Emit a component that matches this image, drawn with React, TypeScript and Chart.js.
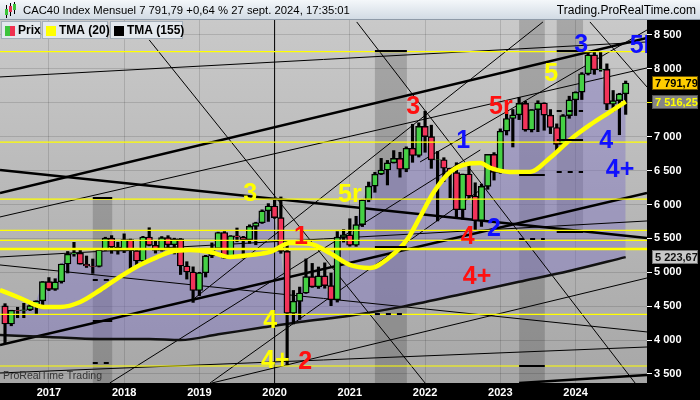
import { useEffect, useRef } from 'react';
import Chart from 'chart.js/auto';

// index 0 = juin 2016, un point par mois jusqu'à sept. 2024
const opens = [
  4505, 4237, 4440, 4438, 4448, 4509, 4578, 4862, 4749, 4858, 5122, 5267,
  5283, 5120, 5093, 5086, 5329, 5503, 5372, 5313, 5482, 5320, 5167, 5520,
  5398, 5324, 5511, 5406, 5493, 5093, 5004, 4731, 4993, 5241, 5351, 5586,
  5208, 5539, 5519, 5480, 5678, 5730, 5905, 5978, 5806, 5309, 4396, 4572,
  4695, 4936, 4784, 4947, 4803, 4594, 5518, 5551, 5399, 5703, 6067, 6270,
  6447, 6508, 6613, 6680, 6520, 6830, 6722, 7153, 7000, 6659, 6660, 6534,
  6469, 5923, 6449, 6125, 5763, 6267, 6739, 6474, 7082, 7268, 7322, 7491,
  7099, 7400, 7497, 7317, 7135, 6886, 7311, 7543, 7657, 7928, 8206, 7985,
  7993, 7479, 7531, 7631,
];
const highs = [
  4537, 4440, 4484, 4542, 4557, 4579, 4863, 4922, 4905, 5122, 5307, 5442,
  5338, 5240, 5196, 5330, 5517, 5541, 5444, 5567, 5490, 5340, 5530, 5657,
  5468, 5527, 5540, 5503, 5498, 5156, 5080, 5000, 5250, 5434, 5592, 5600,
  5541, 5653, 5530, 5700, 5738, 5921, 6013, 6065, 6111, 5457, 4732, 4782,
  5197, 5131, 5078, 5139, 4989, 5600, 5631, 5790, 5826, 6072, 6331, 6475,
  6680, 6650, 6795, 6770, 6850, 7183, 7205, 7376, 7170, 6783, 6690, 6537,
  6616, 6449, 6575, 6320, 6300, 6740, 6765, 7115, 7376, 7401, 7581, 7522,
  7399, 7530, 7500, 7400, 7189, 7327, 7597, 7662, 7945, 8254, 8259, 8259,
  8074, 7681, 7640, 7821,
];
const lows = [
  3956, 4211, 4330, 4330, 4435, 4383, 4521, 4730, 4733, 4840, 4990, 5237,
  5120, 5071, 4984, 5078, 5320, 5280, 5267, 5290, 5053, 5069, 5130, 5390,
  5283, 5311, 5337, 5270, 4967, 4900, 4556, 4656, 4930, 5216, 5340, 5205,
  5207, 5450, 5205, 5426, 5406, 5720, 5750, 5795, 5280, 3632, 4238, 4304,
  4688, 4777, 4762, 4765, 4507, 4561, 5445, 5385, 5383, 5674, 6040, 6180,
  6440, 6288, 6611, 6403, 6483, 6622, 6700, 6770, 6533, 5757, 6336, 6100,
  5795, 5783, 6094, 5628, 5676, 6224, 6360, 6460, 7025, 6848, 7252, 7081,
  7070, 7074, 7095, 7045, 6773, 6880, 7271, 7312, 7548, 7910, 7920, 7965,
  7398, 7375, 7029, 7329,
];
const closes = [
  4237, 4440, 4438, 4448, 4509, 4578, 4862, 4749, 4858, 5122, 5267, 5283,
  5120, 5093, 5086, 5329, 5503, 5372, 5313, 5482, 5320, 5167, 5520, 5398,
  5324, 5511, 5406, 5493, 5093, 5004, 4731, 4993, 5241, 5351, 5586, 5208,
  5539, 5519, 5480, 5678, 5730, 5905, 5978, 5806, 5309, 4396, 4572, 4695,
  4936, 4784, 4947, 4803, 4594, 5518, 5551, 5399, 5703, 6067, 6270, 6447,
  6508, 6613, 6680, 6520, 6830, 6722, 7153, 7000, 6659, 6660, 6534, 6469,
  5923, 6449, 6125, 5763, 6267, 6739, 6474, 7082, 7268, 7322, 7491, 7099,
  7400, 7497, 7317, 7135, 6886, 7311, 7543, 7657, 7928, 8206, 7985, 7993,
  7479, 7531, 7631, 7791.79,
];

// moyennes (indice du mois, valeur)
const tma20Idx = [-0.8, 2.4, 6.1, 8.8, 12, 15.2, 18.3, 21.5, 24.7, 26.3, 29.5, 32.7, 35.9, 39.1, 42.3, 45.5, 48.6, 51.8, 55, 58.2, 61.4, 64.1, 66.2, 68.3, 71, 73.7, 75.8, 77.4, 80.5, 83.7, 86.9, 90.1, 93.3, 96.5, 99];
const tma20Val = [4739, 4621, 4488, 4488, 4562, 4739, 4931, 5108, 5241, 5300, 5329, 5300, 5226, 5255, 5300, 5432, 5420, 5285, 5108, 5064, 5226, 5477, 5816, 6170, 6480, 6598, 6612, 6539, 6480, 6480, 6686, 6952, 7173, 7365, 7516.25];
const tma155Idx = [-0.8, 7, 15, 23, 28, 34, 41, 47, 55, 63, 72.6, 82, 90, 99];
const tma155Val = [4075, 4046, 4016, 4016, 4001, 4085, 4184, 4267, 4360, 4486, 4673, 4860, 5019, 5223.67];

const yearIdx = [7, 19, 31, 43, 55, 67, 79, 91];
const yearLabels = ['2017', '2018', '2019', '2020', '2021', '2022', '2023', '2024'];
const priceTicks = [3500, 4000, 4500, 5000, 5500, 6000, 6500, 7000, 7500, 8000, 8500];

const xMin = -0.8;
const xMax = 102.4;
const yMin = 3367;
const yMax = 8721;

// niveaux horizontaux jaunes
const levels = [8255, 6920, 6078, 5619, 5472, 5345, 4380, 3618];
const strongLevel = 5345;

// droites tracées : [mois0, valeur0, mois1, valeur1]
const thinLines = [
  [-0.8, 7881, 102.4, 8397],
  [-0.8, 5816, 102.4, 8014],
  [23.0, 8427, 67.0, 3367],
  [56.1, 8692, 100.5, 3367],
  [30.3, 4621, 85.8, 8692],
  [-0.8, 5226, 102.4, 5757],
  [-0.8, 5108, 102.4, 4120],
  [-0.8, 3515, 102.4, 3898],
  [33.0, 3367, 102.4, 4916],
  [16.7, 3367, 75.8, 6804],
  [32.7, 3367, 75.8, 6214],
  [93.3, 8692, 102.4, 7733],
  [66.2, 6627, 102.4, 8574],
];
const thickLines = [
  [-0.8, 6170, 102.4, 8456],
  [-0.8, 6509, 102.4, 5506],
  [-0.8, 3928, 102.4, 6170],
  [82.0, 3367, 102.4, 3485],
];
const markerMonth = 43;

// zones temporelles : [mois0, mois1, haut, bas]
const bands = [
  [14, 17.1, 6100, yMin],
  [59, 64.1, 8269, yMin],
  [82, 86.1, yMax, yMin],
  [88, 92.2, yMax, 5594],
];
// repères : [mois0, mois1, valeur, pointillé]
const bandMarks = [
  [14, 17.1, 6100, 0], [14, 17.1, 4887, 1], [14, 17.1, 4282, 0], [14, 17.1, 3662, 1],
  [59, 64.1, 8269, 0], [59, 64.1, 5373, 0], [59, 64.1, 4385, 1],
  [82, 86.1, 6435, 0], [82, 86.1, 5491, 1], [82, 86.1, 3618, 0],
  [88, 92.2, 8269, 0], [88, 92.2, 7379, 1], [88, 92.2, 6952, 0], [88, 92.2, 6480, 1], [88, 92.2, 5594, 0],
];

// comptages de vagues : [texte, mois, valeur]
const yellowWaves = [['3', 39.1, 6155], ['5r', 55.0, 6140], ['5', 87.1, 7925], ['4', 42.3, 4282], ['4+', 43.1, 3692]];
const redWaves = [['3', 65.1, 7438], ['5r', 79.1, 7438], ['4', 73.8, 5521], ['4+', 75.3, 4931], ['1', 47.2, 5521], ['2', 47.9, 3677]];
const blueWaves = [['1', 73.1, 6937], ['3', 91.9, 8353], ['5I', 101.3, 8338], ['4', 95.9, 6937], ['4+', 98.1, 6509], ['2', 78.0, 5639]];

const FONT = '"Liberation Sans", Arial, sans-serif';

const fmt = (v: number, d = 0) => {
  const [a, b] = v.toFixed(d).split('.');
  return a.replace(/\B(?=(\d{3})+(?!\d))/g, ' ') + (b ? ',' + b : '');
};

const seg = (l: number[]) => [{ x: l[0], y: l[1] }, { x: l[2], y: l[3] }];

const decorPlugin = {
  id: 'decor',
  beforeDraw(chart: any) {
    const { ctx, chartArea: a, width, height } = chart;
    ctx.save();
    const g = ctx.createLinearGradient(0, a.top, 0, a.bottom);
    g.addColorStop(0, '#c9c9c9');
    g.addColorStop(1, '#a7a7a7');
    ctx.fillStyle = g;
    ctx.fillRect(a.left, a.top, a.right - a.left, a.bottom - a.top);
    ctx.fillStyle = '#000';
    ctx.fillRect(a.right, a.top, width - a.right, height - a.top);
    ctx.fillRect(0, a.bottom, width, height - a.bottom);
    ctx.restore();
  },
  beforeDatasetsDraw(chart: any) {
    const { ctx, scales: { x, y } } = chart;
    ctx.save();
    ctx.fillStyle = 'rgba(0,0,0,0.17)';
    bands.forEach(([i0, i1, top, bottom]) => {
      const x0 = x.getPixelForValue(i0);
      const x1 = x.getPixelForValue(i1);
      const y0 = y.getPixelForValue(top);
      const y1 = y.getPixelForValue(bottom);
      ctx.fillRect(x0, y0, x1 - x0, y1 - y0);
    });
    ctx.restore();
  },
  afterDatasetsDraw(chart: any) {
    const { ctx, chartArea: a, scales: { x, y } } = chart;
    ctx.save();
    ctx.beginPath();
    ctx.rect(a.left, a.top, a.right - a.left, a.bottom - a.top);
    ctx.clip();

    ctx.strokeStyle = '#000';
    ctx.lineWidth = 2;
    bandMarks.forEach(([i0, i1, v, dashed]) => {
      ctx.setLineDash(dashed ? [5, 6] : []);
      const py = Math.round(y.getPixelForValue(v));
      ctx.beginPath();
      ctx.moveTo(x.getPixelForValue(i0), py);
      ctx.lineTo(x.getPixelForValue(i1), py);
      ctx.stroke();
    });
    ctx.setLineDash([]);

    ctx.font = `bold 25px ${FONT}`;
    ctx.textAlign = 'center';
    ctx.textBaseline = 'middle';
    const drawWaves = (list: any[], color: string) => {
      ctx.fillStyle = color;
      list.forEach(([t, i, v]) => ctx.fillText(t, x.getPixelForValue(i), y.getPixelForValue(v)));
    };
    drawWaves(yellowWaves, '#ffff00');
    drawWaves(redWaves, '#ff1010');
    drawWaves(blueWaves, '#1010ff');

    ctx.font = `10.5px ${FONT}`;
    ctx.textAlign = 'left';
    ctx.fillStyle = '#333';
    ctx.fillText('ProRealTime Trading', 3, a.bottom - 7);
    ctx.restore();
  },
  afterDraw(chart: any) {
    const { ctx, width, scales: { y } } = chart;
    ctx.save();
    // barre de titre
    const tg = ctx.createLinearGradient(0, 0, 0, 20);
    tg.addColorStop(0, '#f4f7fa');
    tg.addColorStop(1, '#d0d9e3');
    ctx.fillStyle = tg;
    ctx.fillRect(0, 0, width, 20);
    ctx.fillStyle = '#8e9aa8';
    ctx.fillRect(0, 19, width, 1);
    // petite icône chandeliers
    ctx.fillStyle = '#000';
    ctx.fillRect(6, 5, 1, 13);
    ctx.fillRect(10, 3, 1, 13);
    ctx.fillRect(14, 2, 1, 12);
    ctx.fillStyle = '#3cc43c';
    ctx.fillRect(5, 9, 3, 6);
    ctx.fillStyle = '#e8304e';
    ctx.fillRect(9, 6, 3, 6);
    ctx.fillStyle = '#3cc43c';
    ctx.fillRect(13, 4, 3, 6);

    ctx.fillStyle = '#000';
    ctx.textBaseline = 'middle';
    ctx.font = `11.3px ${FONT}`;
    ctx.textAlign = 'left';
    ctx.fillText('CAC40 Index Mensuel 7 791,79 +0,64 % 27 sept. 2024, 17:35:01', 23, 11);
    ctx.font = `12px ${FONT}`;
    ctx.textAlign = 'right';
    ctx.fillText('Trading.ProRealTime.com', 696, 11);

    // légende
    const boxes: [number, number, string][] = [[1, 41, 'Prix'], [42, 108, 'TMA (20)'], [110, 183, 'TMA (155)']];
    ctx.textAlign = 'left';
    ctx.font = `bold 12px ${FONT}`;
    boxes.forEach(([x0, x1, label], k) => {
      ctx.fillStyle = '#e3e8ed';
      ctx.fillRect(x0, 21, x1 - x0, 18);
      ctx.strokeStyle = '#a3aeb9';
      ctx.lineWidth = 1;
      ctx.strokeRect(x0 + 0.5, 21.5, x1 - x0 - 1, 17);
      if (k === 0) {
        ctx.fillStyle = '#3cc43c';
        ctx.fillRect(x0 + 4, 26, 5, 10);
        ctx.fillStyle = '#f03050';
        ctx.fillRect(x0 + 9, 26, 5, 10);
      } else {
        ctx.fillStyle = k === 1 ? '#ffff00' : '#000';
        ctx.fillRect(x0 + 4, 26, 10, 10);
      }
      ctx.fillStyle = '#000';
      ctx.fillText(label, x0 + 17, 31);
    });

    // étiquettes de valeur sur l'axe
    ctx.font = `bold 11px ${FONT}`;
    const tag = (v: number, bg: string, fg: string, border: string) => {
      const py = Math.round(y.getPixelForValue(v));
      ctx.fillStyle = bg;
      ctx.fillRect(652, py - 7, 46, 14);
      ctx.strokeStyle = border;
      ctx.strokeRect(652.5, py - 6.5, 45, 13);
      ctx.fillStyle = fg;
      ctx.textAlign = 'left';
      ctx.fillText(fmt(v, 2), 655, py + 0.5);
      return py;
    };
    tag(closes[closes.length - 1], '#ffcc00', '#000', '#6b5200');
    const p2 = tag(tma20Val[tma20Val.length - 1], '#858585', '#ffff00', '#555');
    ctx.fillStyle = '#ffff00';
    ctx.fillRect(647, p2, 5, 1);
    tag(tma155Val[tma155Val.length - 1], '#c9c9c9', '#111', '#777');
    ctx.restore();
  },
};

export default function App() {
  const canvasRef = useRef<HTMLCanvasElement>(null);
  const chartRef = useRef<Chart | null>(null);

  useEffect(() => {
    if (!canvasRef.current) return;
    if (chartRef.current) chartRef.current.destroy();

    const bodyColors = closes.map((c, i) => (c >= opens[i] ? '#45d045' : '#f2335a'));
    const thinSets = thinLines.map((l) => ({
      type: 'line', data: seg(l), borderColor: '#000', borderWidth: 1, pointRadius: 0, fill: false, order: 70,
    }));
    const thickSets = thickLines.map((l) => ({
      type: 'line', data: seg(l), borderColor: '#000', borderWidth: 2.5, pointRadius: 0, fill: false, order: 70,
    }));
    const levelSets = levels.map((v) => ({
      type: 'line', data: [{ x: xMin, y: v }, { x: xMax, y: v }], borderColor: '#ffff00',
      borderWidth: v === strongLevel ? 2.5 : 1.2, pointRadius: 0, fill: false, order: 10,
    }));

    chartRef.current = new Chart(canvasRef.current, {
      type: 'line',
      data: {
        datasets: [
          {
            type: 'line',
            data: closes.map((c, i) => ({ x: i, y: c })),
            borderColor: 'transparent',
            borderWidth: 1,
            pointRadius: 0,
            tension: 0,
            fill: '+1',
            backgroundColor: 'rgba(126,116,196,0.45)',
            order: 100,
          },
          {
            type: 'line',
            data: tma155Idx.map((v, i) => ({ x: v, y: tma155Val[i] })),
            borderColor: '#111',
            borderWidth: 2.5,
            pointRadius: 0,
            cubicInterpolationMode: 'monotone',
            fill: false,
            order: 60,
          },
          ...thinSets,
          ...thickSets,
          {
            type: 'line',
            data: [{ x: markerMonth, y: yMin }, { x: markerMonth, y: yMax }],
            borderColor: '#000', borderWidth: 1, pointRadius: 0, fill: false, order: 70,
          },
          {
            type: 'bar',
            data: closes.map((_, i) => ({ x: i, y: [lows[i], highs[i]] })),
            backgroundColor: '#000',
            barThickness: 2.5,
            grouped: false,
            order: 40,
          },
          {
            type: 'bar',
            data: closes.map((c, i) => ({ x: i, y: [opens[i], c] })),
            backgroundColor: bodyColors,
            borderColor: '#000',
            borderWidth: 1.4,
            borderSkipped: false,
            barThickness: 6.5,
            grouped: false,
            order: 30,
          },
          {
            type: 'line',
            data: tma20Idx.map((v, i) => ({ x: v, y: tma20Val[i] })),
            borderColor: '#ffff00',
            borderWidth: 4.5,
            pointRadius: 0,
            cubicInterpolationMode: 'monotone',
            fill: false,
            order: 20,
          },
          ...levelSets,
        ] as any,
      },
      options: {
        responsive: false,
        animation: false,
        events: [],
        layout: { padding: { top: 20, left: 0, right: 0, bottom: 0 } },
        plugins: { legend: { display: false }, tooltip: { enabled: false } },
        scales: {
          x: {
            type: 'linear',
            min: xMin,
            max: xMax,
            offset: false,
            afterBuildTicks: (s: any) => { s.ticks = yearIdx.map((v) => ({ value: v })); },
            afterFit: (s: any) => { s.height = 17; },
            grid: { color: 'rgba(0,0,0,0.13)', drawTicks: false, offset: false },
            border: { display: false },
            ticks: {
              color: '#fff',
              font: { family: FONT, size: 11, weight: 'bold' },
              padding: 3,
              maxRotation: 0,
              autoSkip: false,
              callback: (v: any) => yearLabels[yearIdx.indexOf(Number(v))] ?? '',
            },
          },
          y: {
            type: 'linear',
            position: 'right',
            min: yMin,
            max: yMax,
            afterBuildTicks: (s: any) => { s.ticks = priceTicks.map((v) => ({ value: v })); },
            afterFit: (s: any) => { s.width = 53; },
            grid: { color: 'rgba(0,0,0,0.13)', tickColor: '#fff', tickLength: 5 },
            border: { display: false },
            ticks: {
              color: '#fff',
              font: { family: FONT, size: 11, weight: 'bold' },
              padding: 2,
              callback: (v: any) => fmt(Number(v)),
            },
          },
        },
      } as any,
      plugins: [decorPlugin],
    });

    return () => {
      if (chartRef.current) {
        chartRef.current.destroy();
        chartRef.current = null;
      }
    };
  }, []);

  return (
    <div style={{ position: 'fixed', left: 0, top: 0, width: 700, height: 400 }}>
      <canvas ref={canvasRef} width={700} height={400} style={{ display: 'block' }} />
    </div>
  );
}
